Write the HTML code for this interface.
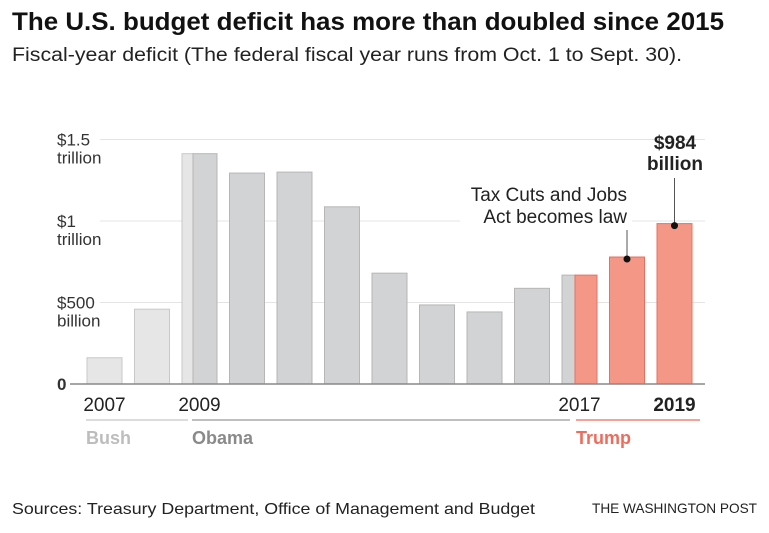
<!DOCTYPE html>
<html><head><meta charset="utf-8">
<style>
html,body{margin:0;padding:0;background:#fff;}
svg{display:block;font-family:"Liberation Sans",sans-serif;}
</style></head>
<body>
<svg id="chart" width="769" height="533" viewBox="0 0 769 533">
<text x="12" y="30" font-size="25" font-weight="bold" fill="#111" textLength="712" lengthAdjust="spacingAndGlyphs">The U.S. budget deficit has more than doubled since 2015</text>
<text x="12" y="61" font-size="19" fill="#222" textLength="670" lengthAdjust="spacingAndGlyphs">Fiscal-year deficit (The federal fiscal year runs from Oct. 1 to Sept. 30).</text>
<g id="grid"></g>
<g id="bars"></g>
<g id="ann"></g>
<text x="12" y="514" font-size="16" fill="#222" textLength="523" lengthAdjust="spacingAndGlyphs">Sources: Treasury Department, Office of Management and Budget</text>
<text x="592" y="513" font-size="14" fill="#222" textLength="165" lengthAdjust="spacingAndGlyphs">THE WASHINGTON POST</text>
</svg>
<script>
const years = [2007,2008,2009,2010,2011,2012,2013,2014,2015,2016,2017,2018,2019];
const deficits = [161,459,1413,1294,1300,1087,680,485,442,587,668,779,984];
const tickValues = [0,500,1000,1500];
const tickLine1 = ["0","$500","$1","$1.5"];
const tickLine2 = ["","billion","trillion","trillion"];
const yearLabels = ["2007","","2009","","","","","","","","2017","","2019"];

const NS="http://www.w3.org/2000/svg";
const y0=384, pxPer=163/1000;
const y=v=>y0-v*pxPer;
const x=i=>87+i*47.5;
const bw=35;
function mk(tag,attrs,parent){const e=document.createElementNS(NS,tag);for(const k in attrs)e.setAttribute(k,attrs[k]);parent.appendChild(e);return e;}
const grid=document.getElementById('grid'), bars=document.getElementById('bars'), ann=document.getElementById('ann');

tickValues.forEach((v,i)=>{
  if(v>0){
    const g=mk('line',{x1:100,x2:705,y1:y(v),y2:y(v),stroke:'#e4e4e4','stroke-width':1},grid);
    
    
  }
  const t=mk('text',{x:57,y:y(v)+6,'font-size':17,fill:'#333','font-weight':v===0?'bold':'normal'},grid);
  t.textContent=tickLine1[i];
  
  
  if(tickLine2[i]){
    const t2=mk('text',{x:57,y:y(v)+24,'font-size':17,fill:'#333'},grid);
    t2.textContent=tickLine2[i];
    
    
  }
});
// white knockout behind annotation
mk('rect',{x:460,y:y(1000)-6,width:172,height:12,fill:'#fff'},grid);

years.forEach((yr,i)=>{
  const v=deficits[i], top=y(v), h=y0-top;
  let parts;
  if(i<2) parts=[[x(i),bw,'#e6e6e7','#c8c8c8']];
  else if(i===2) parts=[[x(i),11,'#e6e6e7','#c8c8c8'],[x(i)+11,bw-11,'#d2d3d4','#b6b6b6']];
  else if(i<10) parts=[[x(i),bw,'#d2d3d4','#b6b6b6']];
  else if(i===10) parts=[[x(i),13,'#d2d3d4','#b6b6b6'],[x(i)+13,bw-13,'#f59787','#e8705f']];
  else parts=[[x(i),bw,'#f59787','#e8705f']];
  parts.forEach(p=>{
    const r=mk('rect',{x:p[0],y:top,width:p[1],height:h,fill:p[2],stroke:p[3],'stroke-width':1},bars);
    
    
  });
  if(yearLabels[i]){
    const t=mk('text',{x:x(i)+bw/2,y:411,'font-size':19,'text-anchor':'middle',fill:'#222','font-weight':i===12?'bold':'normal'},bars);
    t.textContent=yearLabels[i];
    
    
  }
});
const ax=mk('line',{x1:70,x2:705,y1:y0,y2:y0,stroke:'#888','stroke-width':1.5},bars);



// eras
[[86,188,'#c8c8c8','Bush','#bdbdbd'],[192,570,'#999','Obama','#8a8a8a'],[576,700,'#ef6b5c','Trump','#ef6b5c']].forEach(e=>{
  const l=mk('line',{x1:e[0],x2:e[1],y1:420,y2:420,stroke:e[2],'stroke-width':1.2},ann);
  
  
  const t=mk('text',{x:e[0],y:444,'font-size':18,'font-weight':'bold',fill:e[4]},ann);
  t.textContent=e[3];
  
  
});

// annotations
function callout(i,lineTop,name){
  const cx=x(i)+bw/2, cy=y(deficits[i])+2;
  const l=mk('line',{x1:cx,x2:cx,y1:lineTop,y2:cy,stroke:'#555','stroke-width':1},ann);
  
  
  const c=mk('circle',{cx:cx,cy:cy,r:3.5,fill:'#111'},ann);
  
  
}
callout(11,230,'tcja');
callout(12,178,'total-2019');
[['Tax Cuts and Jobs',201],['Act becomes law',223]].forEach(a=>{
  const t=mk('text',{x:627,y:a[1],'font-size':19,'text-anchor':'end',fill:'#222'},ann);
  t.textContent=a[0];
  
  
});
[['$984',149],['billion',170]].forEach(a=>{
  const t=mk('text',{x:675,y:a[1],'font-size':19,'font-weight':'bold','text-anchor':'middle',fill:'#222'},ann);
  t.textContent=a[0];
  
  
});
</script>
</body></html>
